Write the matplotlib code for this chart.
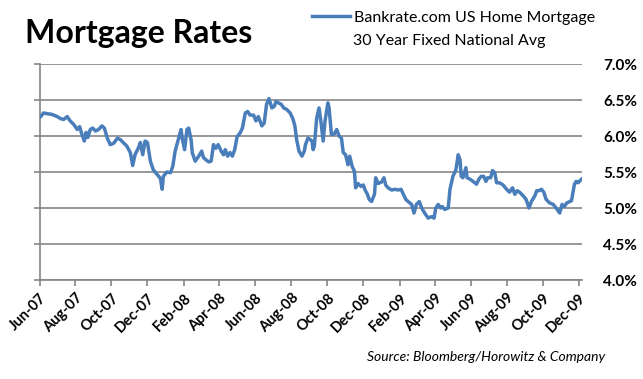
import matplotlib
matplotlib.use("Agg")
import matplotlib.pyplot as plt
import matplotlib.dates as mdates
import pandas as pd
import numpy as np

plt.rcParams['font.family'] = ['Lato', 'DejaVu Sans']

# ---- data ----
start_date = "2007-06-01"
day_offsets = [
    2, 7, 13, 21, 30, 36, 41, 47, 52, 58, 64, 68, 72, 76, 79, 82, 86, 90, 95, 100,
    106, 110, 115, 120, 126, 132, 137, 143, 148, 154, 158, 162, 168, 171, 175, 179,
    183, 188, 193, 199, 205, 208, 210, 216, 222, 226, 230, 236, 240, 242, 246, 250,
    253, 257, 259, 264, 270, 275, 278, 282, 287, 291, 295, 299, 303, 308, 312, 315,
    319, 323, 327, 331, 335, 340, 344, 349, 353, 357, 363, 367, 371, 377, 381, 385,
    389, 394, 398, 401, 405, 410, 414, 419, 425, 430, 433, 436, 440, 445, 449, 451,
    455, 459, 462, 464, 466, 470, 474, 477, 481, 484, 489, 491, 495, 500, 504, 508,
    512, 515, 519, 523, 526, 530, 534, 536, 540, 545, 549, 552, 556, 559, 563, 568,
    570, 574, 580, 584, 587, 591, 597, 603, 608, 613, 617, 621, 625, 631, 635, 639,
    644, 648, 653, 659, 665, 669, 672, 676, 680, 683, 687, 693, 696, 701, 706, 710,
    713, 715, 718, 723, 725, 730, 735, 741, 745, 749, 753, 757, 760, 765, 768, 772,
    775, 780, 786, 792, 797, 802, 806, 810, 814, 820, 825, 830, 834, 840, 843, 847,
    851, 855, 859, 865, 871, 876, 882, 886, 890, 894, 899, 902, 904, 907, 910, 913,
    919,
]
rates = [
    6.27, 6.32, 6.31, 6.30, 6.27, 6.24, 6.23, 6.27, 6.21, 6.16, 6.09, 6.13, 6.02, 5.93, 6.05, 5.98, 6.09, 6.11, 6.07, 6.09,
    6.14, 6.11, 5.97, 5.88, 5.90, 5.97, 5.95, 5.90, 5.86, 5.77, 5.59, 5.74, 5.84, 5.91, 5.74, 5.93,
    5.91, 5.65, 5.53, 5.47, 5.41, 5.26, 5.44, 5.50, 5.49, 5.58, 5.79, 5.97, 6.09, 5.97, 5.81, 6.09,
    6.11, 5.95, 5.77, 5.65, 5.72, 5.79, 5.70, 5.67, 5.64, 5.65, 5.88, 5.83, 5.88, 5.79, 5.74, 5.81,
    5.72, 5.77, 5.72, 5.81, 5.99, 6.04, 6.11, 6.32, 6.34, 6.29, 6.29, 6.21, 6.27, 6.14, 6.18, 6.44,
    6.52, 6.39, 6.41, 6.48, 6.46, 6.44, 6.39, 6.37, 6.32, 6.23, 6.14, 5.95, 5.79, 5.72, 5.79, 5.88,
    5.97, 5.95, 5.93, 5.81, 5.86, 6.25, 6.39, 6.21, 5.93, 6.20, 6.46, 6.39, 6.02, 6.03, 6.09, 6.00,
    5.97, 5.77, 5.74, 5.60, 5.72, 5.58, 5.51, 5.28, 5.34, 5.30, 5.32, 5.25, 5.19, 5.12, 5.09, 5.19,
    5.42, 5.34, 5.36, 5.42, 5.32, 5.28, 5.25, 5.26, 5.25, 5.26, 5.19, 5.12, 5.09, 5.05, 4.93, 5.05,
    5.09, 5.00, 4.93, 4.86, 4.88, 4.86, 5.00, 5.05, 5.00, 5.02, 4.98, 5.00, 5.26, 5.44, 5.53, 5.74,
    5.67, 5.44, 5.42, 5.56, 5.42, 5.40, 5.37, 5.33, 5.40, 5.44, 5.44, 5.37, 5.42, 5.42, 5.52, 5.49,
    5.35, 5.35, 5.32, 5.26, 5.22, 5.28, 5.19, 5.24, 5.22, 5.17, 5.12, 5.00, 5.09, 5.17, 5.24, 5.24,
    5.26, 5.22, 5.12, 5.07, 5.05, 5.00, 4.93, 5.05, 5.02, 5.07, 5.09, 5.10, 5.19, 5.33, 5.37, 5.35,
    5.40,
]
tick_dates = ["2007-06-01", "2007-08-01", "2007-10-01", "2007-12-01", "2008-02-01",
              "2008-04-01", "2008-06-01", "2008-08-01", "2008-10-01", "2008-12-01",
              "2009-02-01", "2009-04-01", "2009-06-01", "2009-08-01", "2009-10-01",
              "2009-12-01"]
y_ticks = [4.0, 4.5, 5.0, 5.5, 6.0, 6.5, 7.0]
title = "Mortgage Rates"
legend_line1 = "Bankrate.com US Home Mortgage"
legend_line2 = "30 Year Fixed National Avg"
source = "Source: Bloomberg/Horowitz & Company"

# ---- figure ----
W, H = 643, 379
fig = plt.figure(figsize=(W / 100, H / 100), dpi=100)
ax = fig.add_axes([39.5 / W, 1 - 280 / H, (581.5 - 39.5) / W, (280 - 64) / H])

start = pd.Timestamp(start_date)
dates = start + pd.to_timedelta(day_offsets, unit="D")
line_color = "#4a7ebb"
grid_color = "#868686"

ln, = ax.plot(dates, rates, color=line_color, lw=2.5, solid_joinstyle="round",
              label=legend_line1, zorder=3)

ax.set_ylim(4.0, 7.0)
ax.set_xlim(start, start + pd.Timedelta(days=919))
ax.set_yticks(y_ticks)
ax.set_yticklabels([f"{v:.1f}%" for v in y_ticks])
ax.yaxis.grid(True, color=grid_color, lw=1.2, zorder=1)
ax.set_axisbelow(True)

tk = pd.to_datetime(tick_dates)
ax.set_xticks(tk)
ax.set_xticklabels([d.strftime("%b-%y") for d in tk], rotation=45, ha="right",
                   rotation_mode="anchor", fontweight="bold", fontsize=10.5)

for s in ["top", "right"]:
    ax.spines[s].set_visible(False)
for s in ["left", "bottom"]:
    ax.spines[s].set_color(grid_color)
    ax.spines[s].set_linewidth(1.2)

ax.tick_params(axis="y", left=True, right=False, labelleft=False, labelright=True,
               length=4.5, color=grid_color, width=1.2, pad=11,
               labelsize=11)
for lab in ax.get_yticklabels():
    lab.set_fontweight("bold")
ax.tick_params(axis="x", length=4, color=grid_color, width=1.2, pad=4)

fig.text(25 / W, 1 - 33.5 / H, title, fontsize=23, fontweight="bold",
         ha="left", va="center")

# legend (first line with the sample, second line as a continuation)
leg = fig.legend(handles=[ln], loc="center left", bbox_to_anchor=(312 / W, 1 - 18 / H),
                 frameon=False, fontsize=11.5, handlelength=2.4, handletextpad=0.2,
                 borderpad=0.0, borderaxespad=0.0)
fig.text(353 / W, 1 - 41 / H, legend_line2, fontsize=11.5, ha="left", va="center")

fig.text(605 / W, 1 - 357 / H, source, fontsize=10, fontstyle="italic",
         ha="right", va="center")

fig.savefig("out.png", dpi=100)
